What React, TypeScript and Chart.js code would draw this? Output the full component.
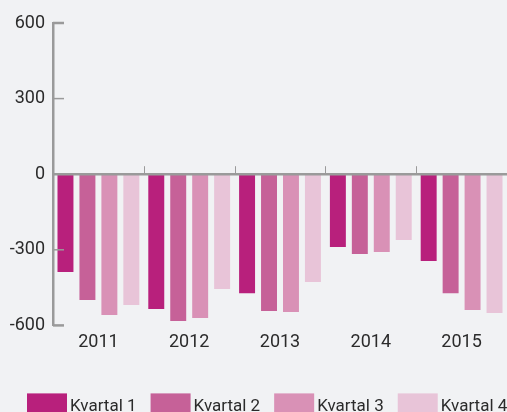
import React, { useEffect, useRef } from "react";
import { Chart, registerables } from "chart.js";

Chart.register(...registerables);

const years = ["2011", "2012", "2013", "2014", "2015"];
const seriesNames = ["Kvartal 1", "Kvartal 2", "Kvartal 3", "Kvartal 4"];
const kvartal1 = [-388, -535, -472, -289, -344];
const kvartal2 = [-499, -583, -543, -317, -472];
const kvartal3 = [-559, -571, -547, -309, -539];
const kvartal4 = [-519, -456, -428, -261, -551];
const yTickValues = [-600, -300, 0, 300, 600];

const seriesValues = [kvartal1, kvartal2, kvartal3, kvartal4];
const colors = ["#B8207C", "#C66198", "#D991B6", "#E8C4D8"];
const FONT = "Roboto, 'Liberation Sans', sans-serif";
const TEXT = "#2b2b2b";
const AXIS = "#9a9a9a";

const axisMarks = {
  id: "axisMarks",
  afterDatasetsDraw(chart: any) {
    const { ctx, chartArea, scales } = chart;
    const x = scales.x;
    const y = scales.y;
    ctx.save();
    ctx.strokeStyle = AXIS;
    const left = chartArea.left;
    yTickValues.forEach((v) => {
      if (v === 0) return;
      const py = y.getPixelForValue(v);
      ctx.lineWidth = Math.abs(v) === 600 ? 2.5 : 1.5;
      ctx.beginPath();
      ctx.moveTo(left, py);
      ctx.lineTo(left + 11, py);
      ctx.stroke();
    });
    const y0 = y.getPixelForValue(0);
    ctx.lineWidth = 1;
    for (let i = 0; i < years.length - 1; i++) {
      const px = Math.round((x.getPixelForValue(i) + x.getPixelForValue(i + 1)) / 2) + 0.5;
      ctx.beginPath();
      ctx.moveTo(px, y0 - 8);
      ctx.lineTo(px, y0);
      ctx.stroke();
    }
    ctx.lineWidth = 2.5;
    ctx.beginPath();
    ctx.moveTo(left, y0);
    ctx.lineTo(chartArea.right, y0);
    ctx.stroke();
    ctx.restore();
  },
};

const quarterLegend = {
  id: "quarterLegend",
  afterDraw(chart: any) {
    const { ctx, chartArea } = chart;
    ctx.save();
    ctx.font = `17px ${FONT}`;
    ctx.textBaseline = "alphabetic";
    ctx.textAlign = "left";
    let x = chartArea.left - 26;
    const top = chartArea.bottom + 68;
    chart.data.datasets.forEach((ds: any) => {
      ctx.fillStyle = ds.backgroundColor;
      ctx.fillRect(x, top, 40, 24);
      ctx.fillStyle = TEXT;
      ctx.fillText(ds.label, x + 43, top + 18);
      x += 43 + ctx.measureText(ds.label).width + 14;
    });
    ctx.restore();
  },
};

export default function App() {
  const ref = useRef<HTMLCanvasElement>(null);

  useEffect(() => {
    document.body.style.margin = "0";
    document.body.style.background = "#F1F2F4";
    const chart = new Chart(ref.current as HTMLCanvasElement, {
      type: "bar",
      data: {
        labels: years,
        datasets: seriesNames.map((name, i) => ({
          label: name,
          data: seriesValues[i],
          backgroundColor: colors[i],
          borderWidth: 0,
          categoryPercentage: 0.967,
          barPercentage: 0.727,
        })),
      },
      options: {
        animation: false,
        responsive: false,
        maintainAspectRatio: false,
        layout: { padding: { top: 23, right: 0, bottom: 73, left: 0 } },
        plugins: {
          legend: { display: false },
          tooltip: { enabled: false },
        },
        scales: {
          x: {
            grid: { display: false, drawTicks: false },
            border: { display: false },
            ticks: { font: { family: FONT, size: 18 }, color: TEXT, padding: 6 },
          },
          y: {
            min: -600,
            max: 600,
            afterBuildTicks: (scale: any) => {
              scale.ticks = yTickValues.map((v) => ({ value: v }));
            },
            afterFit: (scale: any) => {
              scale.width = 53;
            },
            grid: { display: false, drawTicks: false },
            border: { display: true, color: AXIS, width: 2.5 },
            ticks: { font: { family: FONT, size: 18 }, color: TEXT, padding: 8 },
          },
        },
      },
      plugins: [axisMarks, quarterLegend],
    });
    return () => chart.destroy();
  }, []);

  return (
    <div style={{ width: 507, height: 412, overflow: "hidden", background: "#F1F2F4" }}>
      <canvas ref={ref} width={507} height={432} style={{ display: "block" }} />
    </div>
  );
}
